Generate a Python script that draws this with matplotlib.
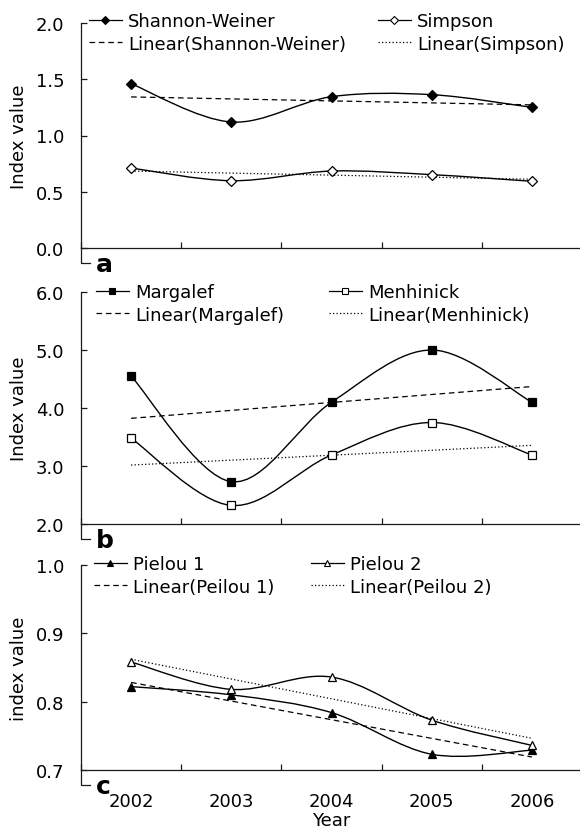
import numpy as np
import matplotlib
matplotlib.use('Agg')
from matplotlib import pyplot as plt
from matplotlib.path import Path
from matplotlib.patches import PathPatch
from matplotlib.lines import Line2D

plt.rcParams['font.family'] = ['DejaVu Sans']
plt.rcParams['font.size'] = 13

# data
years = ['2002', '2003', '2004', '2005', '2006']

shannon = [1.46, 1.12, 1.345, 1.363, 1.25]
simpson = [0.711, 0.598, 0.684, 0.652, 0.593]

margalef = [4.55, 2.73, 4.10, 5.00, 4.10]
menhinick = [3.48, 2.32, 3.19, 3.75, 3.19]

pielou1 = [0.822, 0.810, 0.784, 0.723, 0.729]
pielou2 = [0.858, 0.818, 0.836, 0.773, 0.736]

W, H = 580, 829


def smooth_path(xs, ys):
    # excel style smoothed line (catmull-rom as bezier segments)
    pts = np.column_stack([xs, ys]).astype(float)
    n = len(pts)
    verts = [pts[0]]
    codes = [Path.MOVETO]
    for i in range(n - 1):
        p0 = pts[max(i - 1, 0)]
        p1 = pts[i]
        p2 = pts[i + 1]
        p3 = pts[min(i + 2, n - 1)]
        verts += [p1 + (p2 - p0) / 6., p2 - (p3 - p1) / 6., p2]
        codes += [Path.CURVE4] * 3
    return Path(verts, codes)


def px(x, y):
    return (x / W, 1 - y / H)


fig = plt.figure(figsize=(W / 100., H / 100.), dpi=100)

left = 81 / W
width = 501 / W
# (top px, bottom px) of each panel
panels = [(24, 249), (293, 525), (566, 771)]

x = np.arange(len(years))
axcol = '#1a1a1a'
dash = (0, (4.5, 3))
dot = (0, (1, 1.8))


def make_axes(top, bottom):
    ax = fig.add_axes([left, 1 - bottom / H, width, (bottom - top) / H])
    for s in ['top', 'right']:
        ax.spines[s].set_visible(False)
    for s in ['left', 'bottom']:
        ax.spines[s].set_linewidth(0.9)
        ax.spines[s].set_color(axcol)
    ax.set_xlim(-0.5, 4.5)
    ax.set_xticks(np.arange(-0.5, 5, 1.0))
    ax.set_xticks(x, minor=True)
    ax.tick_params(axis='x', which='major', direction='in', length=4.3,
                   width=0.9, labelbottom=False, color=axcol)
    ax.tick_params(axis='x', which='minor', length=0, labelbottom=False)
    ax.tick_params(axis='y', direction='in', length=4.3, width=0.9,
                   pad=12, color=axcol)
    # little L below the axes corner
    x0, y0 = px(81, bottom)
    fig.add_artist(Line2D([x0, x0, x0 + 9 / W], [y0, y0 - 15 / H, y0 - 15 / H],
                          color=axcol, lw=0.9))
    return ax


def draw_series(ax, vals, marker, filled, trend_ls, ms):
    ax.add_patch(PathPatch(smooth_path(x, vals), fill=False, ec='black',
                           lw=1.0, zorder=3))
    ax.plot(x, vals, linestyle='none', marker=marker, ms=ms,
            mfc='black' if filled else 'white', mec='black', mew=0.9, zorder=4)
    k, b = np.polyfit(x, vals, 1)
    ax.plot(x[[0, -1]], k * x[[0, -1]] + b, color='black', lw=0.9,
            linestyle=trend_ls, zorder=2)


def add_legend(entries, hx, ty):
    handles = []
    labels = []
    for lab, marker, filled, ls, ms in entries:
        handles.append(Line2D([], [], color='black', lw=0.9, linestyle=ls,
                              marker=marker, ms=ms,
                              mfc='black' if filled else 'white',
                              mec='black', mew=0.8))
        labels.append(lab)
    fig.legend(handles, labels, loc='upper left', bbox_to_anchor=px(hx, ty),
               frameon=False, borderpad=0, borderaxespad=0,
               handlelength=1.8, handletextpad=0.35, labelspacing=0.25,
               markerscale=0.8)


def panel_letter(ax, letter):
    ax.annotate(letter, xy=(0, 0), xycoords='axes fraction', xytext=(15, -23),
                textcoords='offset pixels', fontsize=18, fontweight='bold',
                ha='left', va='baseline')


# a
ax = make_axes(*panels[0])
draw_series(ax, shannon, 'D', True, dash, 5.2)
draw_series(ax, simpson, 'D', False, dot, 5.2)
ax.set_ylim(0, 2.0)
ax.set_yticks(np.arange(0, 2.01, 0.5))
ax.set_yticklabels(['%.1f' % v for v in np.arange(0, 2.01, 0.5)])
ax.set_ylabel('Index value')
ax.yaxis.set_label_coords(-0.106, 0.5)
panel_letter(ax, 'a')
add_legend([('Shannon-Weiner', 'D', True, '-', 5.2),
            ('Linear(Shannon-Weiner)', None, True, dash, 5.2)], 89, 13)
add_legend([('Simpson', 'D', False, '-', 5.2),
            ('Linear(Simpson)', None, True, dot, 5.2)], 378, 13)

# b
ax = make_axes(*panels[1])
draw_series(ax, margalef, 's', True, dash, 5.5)
draw_series(ax, menhinick, 's', False, dot, 5.5)
ax.set_ylim(2.0, 6.0)
ax.set_yticks(np.arange(2, 6.01, 1.0))
ax.set_yticklabels(['%.1f' % v for v in np.arange(2, 6.01, 1.0)])
ax.set_ylabel('Index value')
ax.yaxis.set_label_coords(-0.106, 0.5)
panel_letter(ax, 'b')
add_legend([('Margalef', 's', True, '-', 5.5),
            ('Linear(Margalef)', None, True, dash, 5.5)], 96, 284)
add_legend([('Menhinick', 's', False, '-', 5.5),
            ('Linear(Menhinick)', None, True, dot, 5.5)], 329, 284)

# c
ax = make_axes(*panels[2])
draw_series(ax, pielou1, '^', True, dash, 6)
draw_series(ax, pielou2, '^', False, dot, 6)
ax.set_ylim(0.7, 1.0)
ax.set_yticks([0.7, 0.8, 0.9, 1.0])
ax.set_yticklabels(['0.7', '0.8', '0.9', '1.0'])
ax.set_ylabel('index value')
ax.yaxis.set_label_coords(-0.106, 0.5)
ax.set_xticklabels(years, minor=True)
ax.tick_params(axis='x', which='minor', labelbottom=True, pad=15.5)
ax.set_xlabel('Year', labelpad=1)
panel_letter(ax, 'c')
add_legend([('Pielou 1', '^', True, '-', 6),
            ('Linear(Peilou 1)', None, True, dash, 6)], 94, 556)
add_legend([('Pielou 2', '^', False, '-', 6),
            ('Linear(Peilou 2)', None, True, dot, 6)], 311, 556)

fig.savefig('out.png', dpi=100)
